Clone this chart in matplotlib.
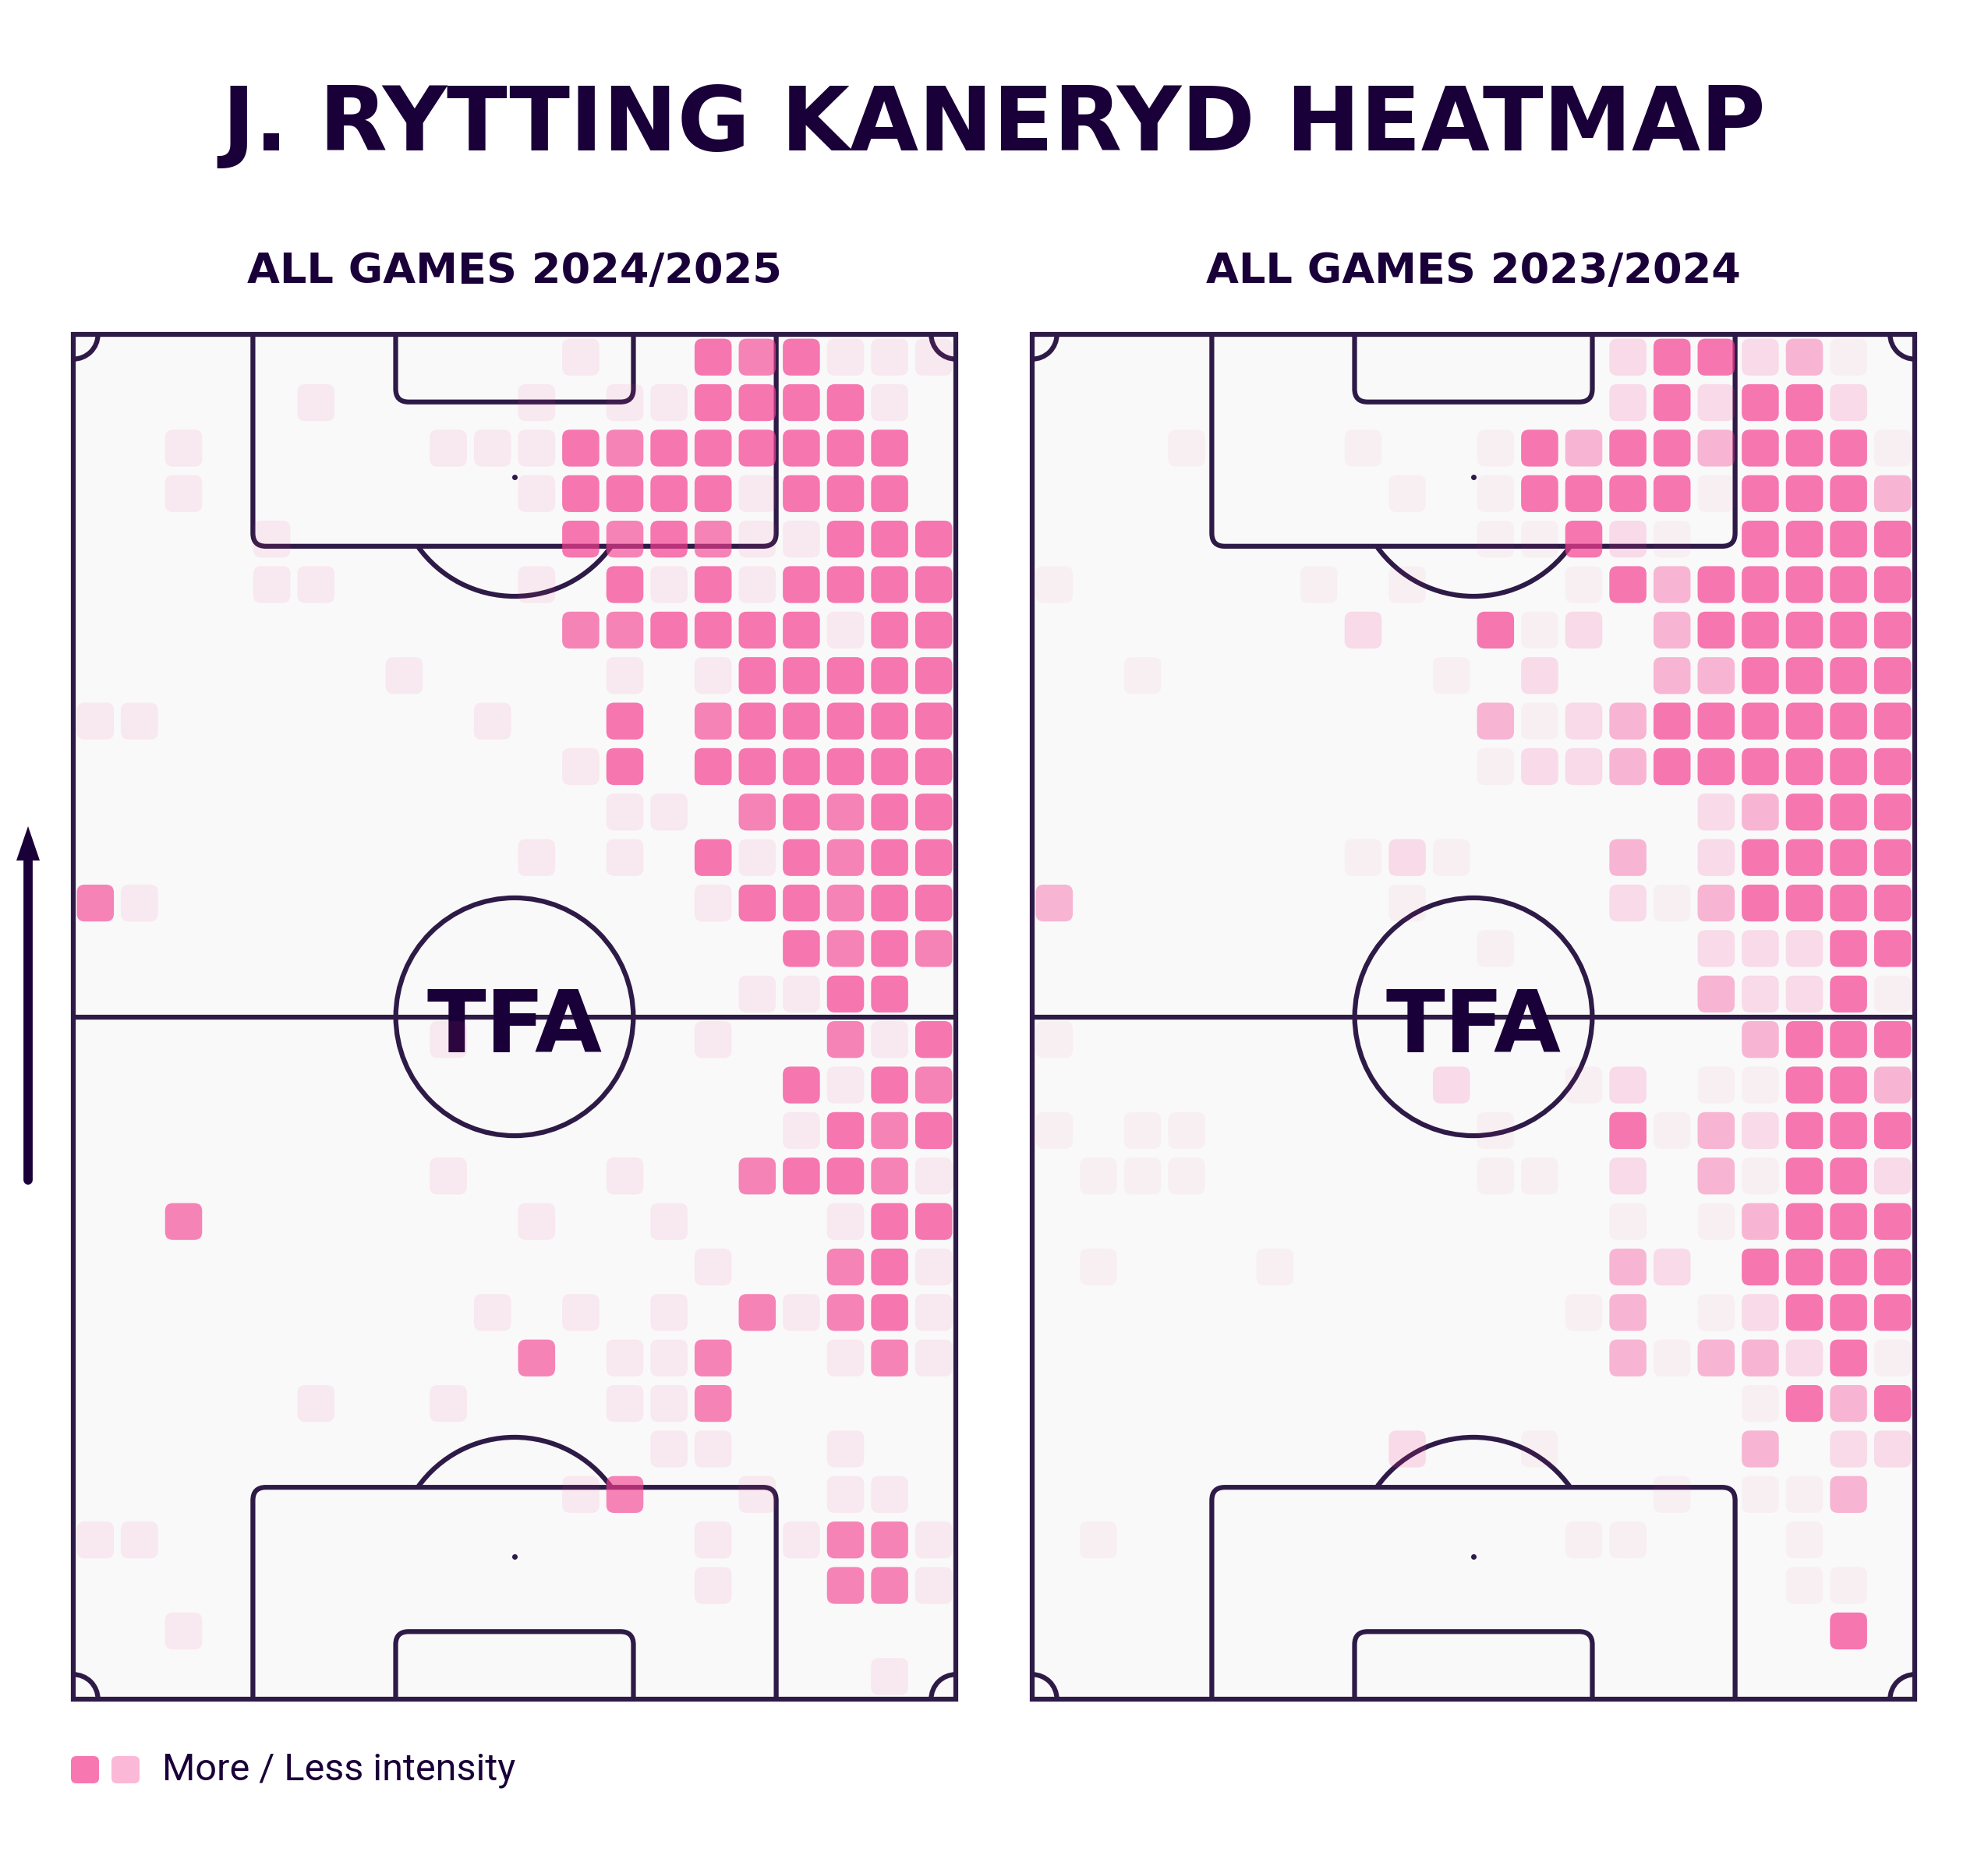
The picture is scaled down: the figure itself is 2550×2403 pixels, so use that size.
import matplotlib
matplotlib.use("Agg")
import math
import matplotlib.pyplot as plt
from matplotlib.patches import FancyBboxPatch, Rectangle, Circle, Arc, Polygon
from matplotlib.lines import Line2D

# ---------------- data ----------------
TITLE = "J. RYTTING KANERYD HEATMAP"
SUBTITLES = ["ALL GAMES 2024/2025", "ALL GAMES 2023/2024"]
LEGEND_TEXT = "More / Less intensity"
LOGO_TEXT = "TFA"

# intensity level per zone (rows top -> bottom, 20 columns left -> right), '.' = no touches
GRID_2425 = [
    "..... ..... .2..6 56222",
    "..... 2.... 2.226 6662.",
    "..2.. ...22 26566 6666.",
    "..2.. ..... 26666 2666.",
    "....2 ..... .6565 22666",
    "....2 2.... 2.626 26666",
    "..... ..... .5566 66266",
    "..... ..2.. ..2.2 66666",
    "22... ....2 ..6.5 66666",
    "..... ..... .26.6 66666",
    "..... ..... ..22. 56566",
    "..... ..... 2.2.6 26566",
    "52... ..... ....2 66566",
    "..... ..... ..... .6565",
    "..... ..... ..... 2266.",
    "..... ...2. ....2 ..526",
    "..... ..... ..... .6265",
    "..... ..... ..... .2656",
    "..... ...2. ..2.. 56652",
    "..5.. ..... 2..2. ..266",
    "..... ..... ....2 ..562",
    "..... ....2 .2.2. 52562",
    "..... ..... 5.225 ..252",
    "..... 2..2. ..225 .....",
    "..... ..... ...22 ..2..",
    "..... ..... .25.. 2.22.",
    "22... ..... ....2 .2552",
    "..... ..... ....2 ..552",
    "..2.. ..... ..... .....",
    "..... ..... ..... ...2.",
]

GRID_2324 = [
    "..... ..... ...36 6341.",
    "..... ..... ...36 3663.",
    "...1. ..1.. 16466 46661",
    "..... ...1. 16666 16664",
    "..... ..... 11631 .6666",
    "1.... .1.1. ..164 66666",
    "..... ..3.. 613.4 66666",
    "..1.. ....1 .3..4 46666",
    "..... ..... 41346 66666",
    "..... ..... 13346 66666",
    "..... ..... ..... 34666",
    "..... ..131 ...4. 36666",
    "4.... ...1. ...31 46666",
    "..... ..... 1.... 33366",
    "..... ..... ..... 43361",
    "1.... ..... ..... .4666",
    "..... ....3 ..13. 11664",
    "1.11. ..... 1..61 43666",
    ".111. ..... 11.3. 41663",
    "..... ..... ...1. 14666",
    ".1... 1.... ...43 .6666",
    "..... ..... ..14. 13666",
    "..... ..... ...41 44361",
    "..... ..... ..... .1646",
    "..... ...3. .1... .4.33",
    "..... ..... ....1 .114.",
    ".1... ..... ..11. ..1..",
    "..... ..... ..... ..11.",
    "..... ..... ..... ...6.",
    "..... ..... ..... .....",
]

LEVEL_ALPHA = {1: 0.05, 2: 0.09, 3: 0.16, 4: 0.36, 5: 0.63, 6: 0.70}
LEGEND_LEVELS = [6, 4]

# ---------------- style ----------------
PITCH_L, PITCH_W = 105.0, 68.0
NCOLS, NROWS = 20, 30
PINK = "#F53E90"
LINE = "#2e1a47"
DARK = "#1a0038"
PITCH_BG = "#f9f9f9"
LW = 4.5
BOX_DEPTH, BOX_WIDTH = 16.3, 40.32
SIX_DEPTH, SIX_WIDTH = 5.2, 18.32
SPOT_DIST, ARC_R = 11.0, 9.15

W_PX, H_PX = 2550, 2403
fig = plt.figure(figsize=(W_PX / 100, H_PX / 100), dpi=100)
fig.patch.set_facecolor("white")


def fx(px):
    return px / W_PX


def fy(py):
    return 1 - py / H_PX


def draw_pitch(ax):
    ax.set_xlim(0, PITCH_W)
    ax.set_ylim(0, PITCH_L)
    ax.set_facecolor(PITCH_BG)
    for sp in ax.spines.values():
        sp.set_visible(False)
    ax.set_xticks([])
    ax.set_yticks([])
    kw = dict(color=LINE, lw=LW, zorder=2)
    ax.add_patch(Rectangle((0, 0), PITCH_W, PITCH_L, fill=False, ec=LINE, lw=LW,
                           clip_on=False, zorder=5))
    ax.plot([0, PITCH_W], [PITCH_L / 2, PITCH_L / 2], solid_capstyle="butt", **kw)
    ax.add_patch(Circle((PITCH_W / 2, PITCH_L / 2), ARC_R, fill=False, ec=LINE, lw=LW, zorder=2))
    cx = PITCH_W / 2
    ang = math.degrees(math.asin((BOX_DEPTH - SPOT_DIST) / ARC_R))
    for top in (True, False):
        for depth, width in ((BOX_DEPTH, BOX_WIDTH), (SIX_DEPTH, SIX_WIDTH)):
            y0 = PITCH_L - depth if top else -3
            ax.add_patch(FancyBboxPatch((cx - width / 2, y0), width, depth + 3,
                                        boxstyle="round,pad=0,rounding_size=1.0",
                                        fill=False, ec=LINE, lw=LW, zorder=2))
        spot_y = PITCH_L - SPOT_DIST if top else SPOT_DIST
        ax.plot([cx], [spot_y], "o", color=LINE, ms=4, zorder=2)
        if top:
            ax.add_patch(Arc((cx, spot_y), 2 * ARC_R, 2 * ARC_R, theta1=180 + ang,
                             theta2=360 - ang, ec=LINE, lw=LW, zorder=2))
        else:
            ax.add_patch(Arc((cx, spot_y), 2 * ARC_R, 2 * ARC_R, theta1=ang,
                             theta2=180 - ang, ec=LINE, lw=LW, zorder=2))
    rc = 1.9
    for (x, y, t1, t2) in ((0, 0, 0, 90), (PITCH_W, 0, 90, 180),
                           (PITCH_W, PITCH_L, 180, 270), (0, PITCH_L, 270, 360)):
        ax.add_patch(Arc((x, y), 2 * rc, 2 * rc, theta1=t1, theta2=t2,
                         ec=LINE, lw=LW, zorder=2))
    # logo
    ax.text(cx, PITCH_L / 2 - 2.7, LOGO_TEXT, ha="center", va="baseline",
            fontsize=80, fontweight="heavy", color=DARK, family="DejaVu Sans", zorder=3)


def draw_heat(ax, grid):
    cw = PITCH_W / NCOLS
    chh = PITCH_L / NROWS
    bw, bh = cw * 0.84, chh * 0.81
    for r, row in enumerate(grid):
        cells = row.replace(" ", "")
        for c, ch in enumerate(cells):
            if ch == ".":
                continue
            lvl = int(ch)
            xc = (c + 0.5) * cw
            yc = PITCH_L - (r + 0.5) * chh
            ax.add_patch(FancyBboxPatch((xc - bw / 2, yc - bh / 2), bw, bh,
                                        boxstyle="round,pad=0,rounding_size=0.6",
                                        fc=PINK, ec="none", alpha=LEVEL_ALPHA[lvl], zorder=4))


pitch_px = [(94, 429, 1132, 1751), (1324, 429, 1132, 1751)]
for (x, y, w, h), grid, sub in zip(pitch_px, [GRID_2425, GRID_2324], SUBTITLES):
    ax = fig.add_axes([fx(x), fy(y + h), w / W_PX, h / H_PX])
    draw_pitch(ax)
    draw_heat(ax, grid)
    fig.text(fx(x + w / 2), fy(363), sub, ha="center", va="baseline",
             fontsize=39, fontweight="heavy", color=DARK, family="DejaVu Sans")

fig.text(0.5, fy(193), TITLE, ha="center", va="baseline",
         fontsize=82, fontweight="heavy", color=DARK, family="DejaVu Sans")

# direction arrow
fig.add_artist(Line2D([fx(36), fx(36)], [fy(1514), fy(1100)], transform=fig.transFigure,
                      color=DARK, lw=8.5, solid_capstyle="round"))
fig.add_artist(Polygon([[fx(21), fy(1104)], [fx(51), fy(1104)], [fx(36), fy(1060)]],
                       closed=True, transform=fig.transFigure, fc=DARK, ec="none"))

# legend
for i, lvl in enumerate(LEGEND_LEVELS):
    x0 = 91 + i * 52
    fig.add_artist(FancyBboxPatch((fx(x0), fy(2288)), 36 / W_PX, 35 / H_PX,
                                  boxstyle="round,pad=0,rounding_size=0.0028",
                                  transform=fig.transFigure, fc=PINK,
                                  alpha=LEVEL_ALPHA[lvl], ec="none"))
fig.text(fx(208), fy(2283), LEGEND_TEXT, ha="left", va="baseline",
         fontsize=35, color=DARK, family="Roboto")

fig.savefig("out.png", dpi=100, facecolor="white")
